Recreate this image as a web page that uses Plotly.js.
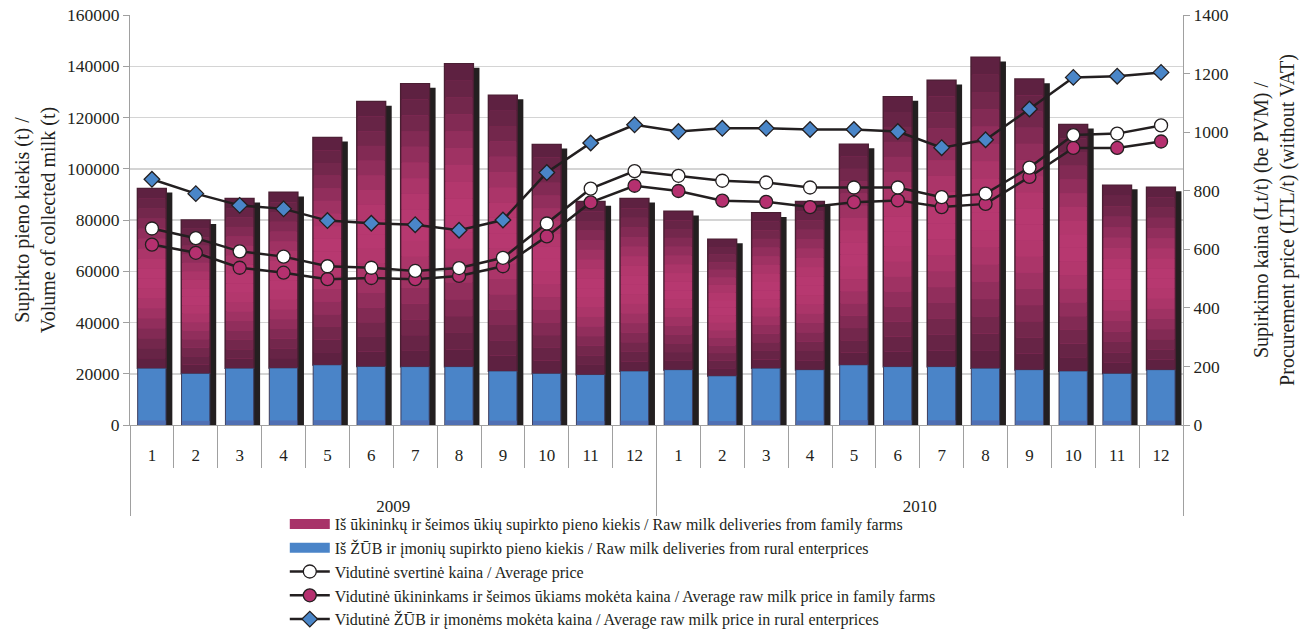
<!DOCTYPE html>
<html>
<head>
<meta charset="utf-8">
<script src="https://cdn.plot.ly/plotly-3.0.1.min.js"></script>
<style>html,body{margin:0;padding:0;background:#fff;}#chart{width:1305px;height:631px;}</style>
</head>
<body>
<div id="chart"></div>
<script>
const years = ['2009','2009','2009','2009','2009','2009','2009','2009','2009','2009','2009','2009',
               '2010','2010','2010','2010','2010','2010','2010','2010','2010','2010','2010','2010'];
const months = ['1','2','3','4','5','6','7','8','9','10','11','12',
                '1','2','3','4','5','6','7','8','9','10','11','12'];

const ruralMilk = [22200,20200,22200,22300,23500,22900,22800,22800,21100,20200,19700,21100,
                   21600,19200,22200,21600,23500,22800,22800,22200,21600,21100,20200,21600];
const familyMilk = [70000,59700,66100,68400,88600,103200,110300,118100,107500,89200,67400,67200,
                    61700,53200,60500,65500,86000,105200,111600,121200,113300,96100,73300,71100];

const avgPrice = [671,638,593,575,542,537,526,536,571,688,807,867,
                  851,834,828,811,811,811,778,790,879,990,995,1023];
const familyPrice = [616,588,537,520,498,502,498,509,542,644,760,817,
                     799,766,762,744,761,767,744,755,847,946,946,968];
const ruralPrice = [839,790,750,738,698,689,684,665,700,862,963,1025,
                    1002,1013,1013,1009,1009,1002,947,974,1079,1187,1191,1204];

const names = {
  family: 'Iš ūkininkų ir šeimos ūkių supirkto pieno kiekis / Raw milk deliveries from family farms',
  rural: 'Iš ŽŪB ir įmonių supirkto pieno kiekis / Raw milk deliveries from rural enterprices',
  avg: 'Vidutinė svertinė kaina / Average price',
  famP: 'Vidutinė ūkininkams ir šeimos ūkiams mokėta kaina / Average raw milk price in family farms',
  rurP: 'Vidutinė ŽŪB ir įmonėms mokėta kaina / Average raw milk price in rural enterprices'
};

const x = [years.map(y=>'\u00a0<br>\u00a0<br>'+y), months];
const total = familyMilk.map((v,i)=>v+ruralMilk[i]);
const BW = 0.645, BOFF = -0.325, SOFF = -0.18;

const traces = [];
traces.push({type:'bar', x:x, y:total.map(v=>v-1500), base:0, width:BW, offset:SOFF,
  marker:{color:'#231f20', line:{width:0}}, showlegend:false, hoverinfo:'skip'});
traces.push({type:'bar', x:x, y:familyMilk, base:ruralMilk, width:BW, offset:BOFF,
  showlegend:false, marker:{color:'#a83369', line:{color:'#4a1f33', width:2}}});
traces.push({type:'bar', x:x, y:ruralMilk, base:0, width:BW, offset:BOFF,
  showlegend:false, marker:{color:'#4a84c8', line:{color:'#3c3c5c', width:1}}});
const NSEG = 18;
const dark = [92,33,64], light = [184,56,112];
for (let s=0; s<NSEG; s++){
  const t = (s+0.5)/NSEG;
  const w = Math.pow(Math.sin(Math.PI*t), 1.6);
  const c = dark.map((d,k)=>Math.round(d + (light[k]-d)*w));
  traces.push({type:'bar', x:x,
    y: familyMilk.map(v=>v/NSEG),
    base: familyMilk.map((v,i)=>ruralMilk[i] + v*s/NSEG),
    width:BW-0.02, offset:BOFF+0.01,
    marker:{color:'rgb('+c.join(',')+')', line:{width:0}},
    showlegend:false, hoverinfo:'skip'});
}
traces.push({type:'bar', x:x, y:ruralMilk.map(v=>v*0.08), base:0, width:BW-0.02, offset:BOFF+0.01,
  marker:{color:'#5070b4', line:{width:0}}, showlegend:false, hoverinfo:'skip'});

const nulls = months.map(()=>null);
traces.push({type:'scatter', mode:'lines', x:x, y:nulls, name:names.family, legendrank:1,
  line:{color:'#a83369', width:13}, hoverinfo:'skip'});
traces.push({type:'scatter', mode:'lines', x:x, y:nulls, name:names.rural, legendrank:2,
  line:{color:'#4a84c8', width:13}, hoverinfo:'skip'});

const lineStyle = {color:'#231f20', width:2.5};
traces.push({type:'scatter', mode:'lines+markers', x:x, y:ruralPrice, yaxis:'y2',
  name:names.rurP, legendrank:5, line:lineStyle,
  marker:{symbol:'diamond', size:12, color:'#4a86c8', line:{color:'#231f20', width:1.3}}});
traces.push({type:'scatter', mode:'lines+markers', x:x, y:familyPrice, yaxis:'y2',
  name:names.famP, legendrank:4, line:lineStyle,
  marker:{symbol:'circle', size:13, color:'#b5306f', line:{color:'#231f20', width:1.3}}});
traces.push({type:'scatter', mode:'lines+markers', x:x, y:avgPrice, yaxis:'y2',
  name:names.avg, legendrank:3, line:lineStyle,
  marker:{symbol:'circle', size:13, color:'#ffffff', line:{color:'#231f20', width:1.3}}});

const F = 'Liberation Serif';
const layout = {
  width:1305, height:631,
  margin:{l:130, r:122, t:15, b:206, autoexpand:false},
  paper_bgcolor:'#fff', plot_bgcolor:'#fff',
  font:{family:F, size:17, color:'#231f20'},
  barmode:'overlay',
  showlegend:true,
  legend:{orientation:'v', x:0.147, xanchor:'left', y:-0.2, yanchor:'top',
    font:{family:F, size:16, color:'#231f20'}, itemwidth:40, tracegroupgap:0,
    bgcolor:'rgba(0,0,0,0)'},
  xaxis:{type:'multicategory', range:[-0.5, 23.5], autorange:false,
    showline:true, linecolor:'#a0a0a0', linewidth:1,
    ticks:'outside', tickson:'boundaries', ticklen:42, tickcolor:'#a0a0a0',
    showdividers:true, dividercolor:'#a0a0a0', dividerwidth:1, ticklabelstandoff:15,
    showgrid:false, tickfont:{family:F, size:17}},
  yaxis:{range:[0,160000], dtick:20000, tickformat:'d', showline:true, linecolor:'#a0a0a0',
    ticks:'outside', ticklen:6, tickcolor:'#a0a0a0', gridcolor:'#d4d4d4', gridwidth:1.5,
    zeroline:false, tickfont:{family:F, size:17.5},
    title:{text:'Supirkto pieno kiekis (t) /<br>Volume of collected milk (t)', font:{family:F, size:20}, standoff:6}},
  yaxis2:{range:[0,1400], dtick:200, tickformat:'d', overlaying:'y', side:'right', showline:true,
    linecolor:'#a0a0a0', ticks:'outside', ticklen:6, tickcolor:'#a0a0a0', showgrid:false,
    zeroline:false, tickfont:{family:F, size:17.5},
    title:{text:'Supirkimo kaina (Lt/t) (be PVM) /<br>Procurement price (LTL/t) (without VAT)', font:{family:F, size:20}, standoff:26}}
};
Plotly.newPlot('chart', traces, layout, {displayModeBar:false, staticPlot:true});
</script>
</body>
</html>
